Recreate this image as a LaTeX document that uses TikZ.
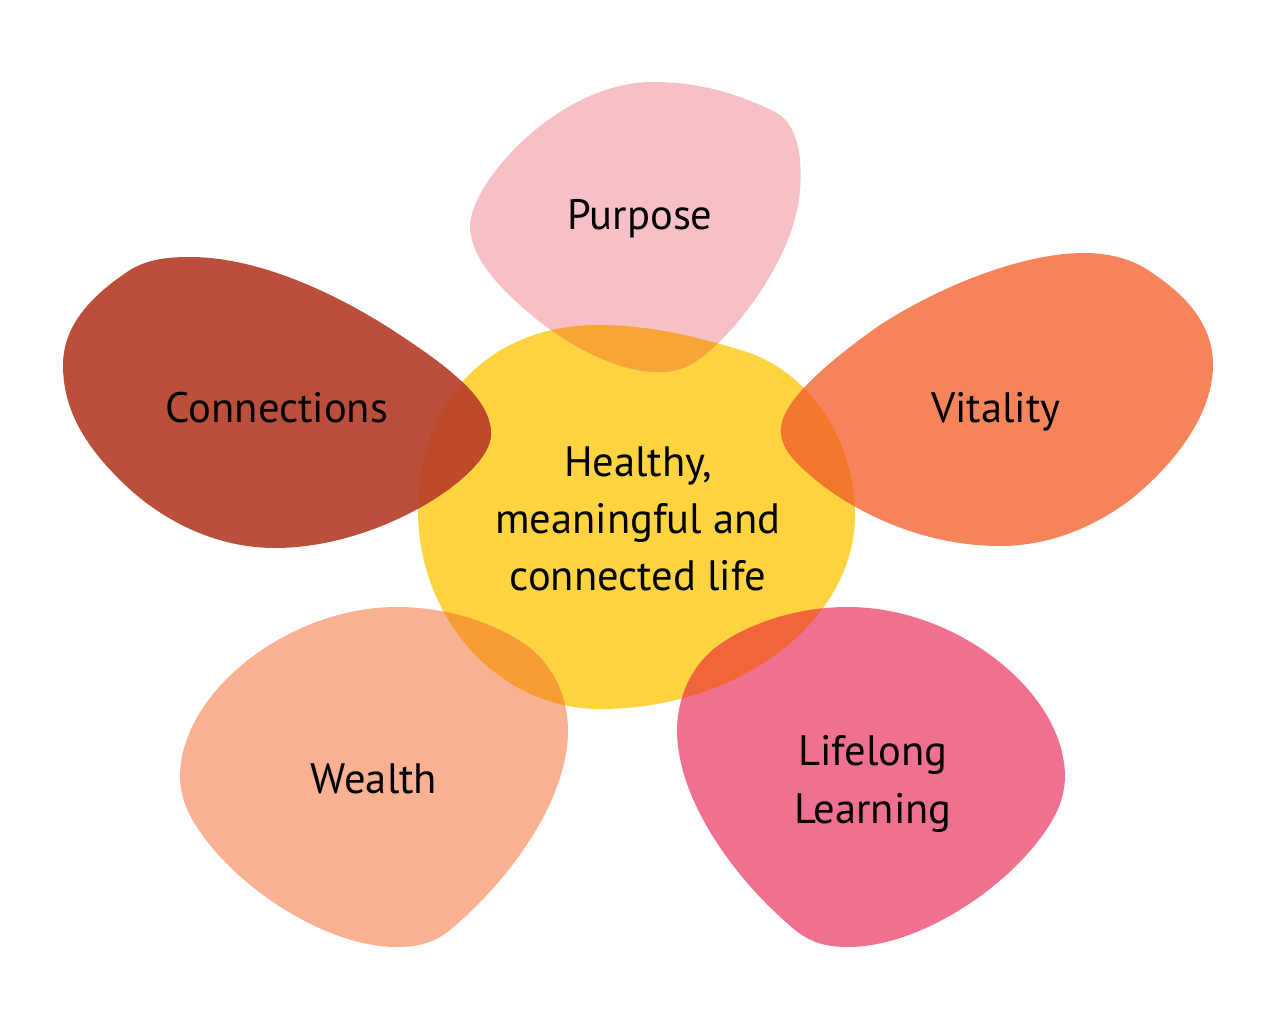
\documentclass[tikz,border=0pt]{standalone}
\usepackage{fontspec}
\setmainfont{PT Sans}
\definecolor{core}{HTML}{FDD440}
\definecolor{purp}{HTML}{F7BFC6}
\definecolor{conn}{HTML}{BC4F3C}
\definecolor{vita}{HTML}{F5845A}
\definecolor{wlth}{HTML}{F9B192}
\definecolor{lifel}{HTML}{F0718F}
\definecolor{purpover}{HTML}{F8A538}
\definecolor{connover}{HTML}{BD4A2A}
\definecolor{vitaover}{HTML}{F2772A}
\definecolor{wlthover}{HTML}{F79C33}
\definecolor{lifelover}{HTML}{F06638}

\def\corepath{(598,325) .. controls (650,325) and (700,337) .. (750,353)
  .. controls (810,375) and (855,440) .. (855,515)
  .. controls (855,620) and (740,709) .. (600,709)
  .. controls (500,709) and (418,620) .. (418,510)
  .. controls (418,395) and (495,325) .. (598,325) -- cycle}
\def\purppath{(653,82) .. controls (705,82) and (745,97) .. (775,112)
  .. controls (795,122) and (803,150) .. (800,190)
  .. controls (795,260) and (730,340) .. (695,362)
  .. controls (680,372) and (665,373) .. (650,372)
  .. controls (610,368) and (570,345) .. (540,322)
  .. controls (500,290) and (470,258) .. (470,225)
  .. controls (472,180) and (560,82) .. (653,82) -- cycle}
\def\connpath{(190,257) .. controls (260,257) and (340,295) .. (400,335)
  .. controls (450,368) and (492,400) .. (491,435)
  .. controls (490,475) and (380,548) .. (275,548)
  .. controls (215,548) and (160,520) .. (120,480)
  .. controls (85,445) and (63,410) .. (63,365)
  .. controls (63,320) and (100,290) .. (130,270)
  .. controls (148,259) and (168,257) .. (190,257) -- cycle}
\def\vitapath{(1083,253) .. controls (1105,253) and (1125,257) .. (1143,267)
  .. controls (1180,290) and (1213,320) .. (1213,365)
  .. controls (1213,410) and (1180,460) .. (1130,500)
  .. controls (1090,530) and (1045,546) .. (1000,546)
  .. controls (920,546) and (850,510) .. (810,475)
  .. controls (790,458) and (780,445) .. (781,428)
  .. controls (783,400) and (830,360) .. (880,325)
  .. controls (950,280) and (1030,253) .. (1083,253) -- cycle}
\def\wlthpath{(397,607) .. controls (450,607) and (500,625) .. (530,648)
  .. controls (555,668) and (568,700) .. (568,730)
  .. controls (568,800) and (510,880) .. (450,930)
  .. controls (435,942) and (420,947) .. (397,947)
  .. controls (330,947) and (250,895) .. (210,845)
  .. controls (190,820) and (180,800) .. (180,775)
  .. controls (182,690) and (290,607) .. (397,607) -- cycle}
\def\lifelpath{(848,607) .. controls (795,607) and (745,625) .. (715,648)
  .. controls (690,668) and (677,700) .. (677,730)
  .. controls (677,800) and (735,880) .. (795,930)
  .. controls (810,942) and (825,947) .. (848,947)
  .. controls (915,947) and (995,895) .. (1035,845)
  .. controls (1055,820) and (1065,800) .. (1065,775)
  .. controls (1063,690) and (955,607) .. (848,607) -- cycle}

\begin{document}
\begin{tikzpicture}[x=0.01cm, y=-0.01cm,
  lbl/.style={font=\fontsize{12.1}{16.3}\selectfont, align=center, inner sep=0pt}]
\useasboundingbox (0,0) rectangle (1276,1009);

\fill[core] \corepath;
\foreach \p/\c in {\purppath/purp, \connpath/conn, \vitapath/vita, \wlthpath/wlth, \lifelpath/lifel}
{
  \fill[\c] \p;
  \begin{scope}
    \clip \corepath;
    \fill[\c over] \p;
  \end{scope}
}

\node[lbl, anchor=base] (purpose) at (640,229) {Purpose};
\node[lbl, anchor=base] (connections) at (277,422) {Connections};
\node[lbl, anchor=base] (vitality) at (996,422) {Vitality};
\node[lbl, anchor=base] (wealth) at (374,793) {Wealth};
\node[lbl] (life) at (638,519) {Healthy,\\meaningful and\\connected life};
\node[lbl] (lifelong) at (873,784) {Lifelong\\Learning};
\end{tikzpicture}
\end{document}
